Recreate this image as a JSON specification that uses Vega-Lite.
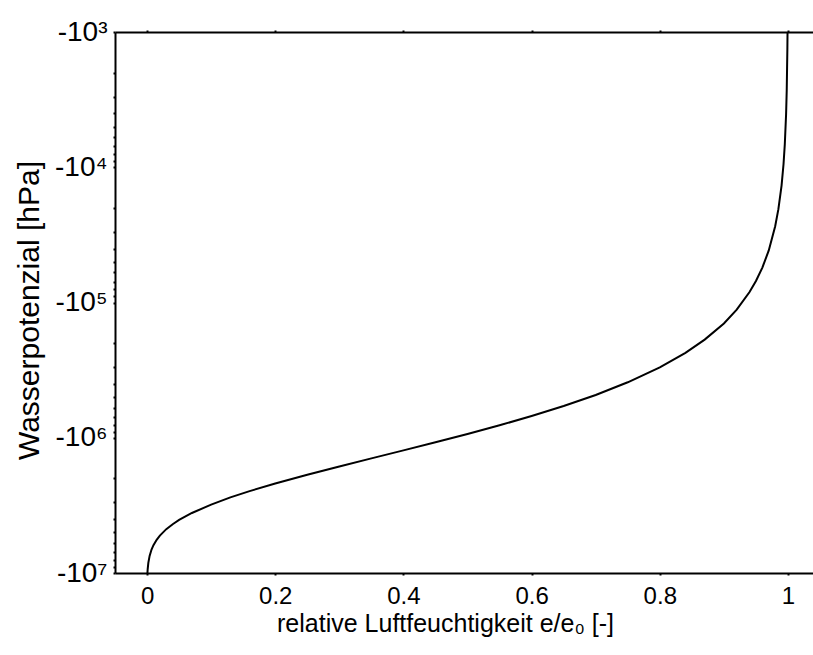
{
  "$schema": "https://vega.github.io/schema/vega-lite/v6.json",
  "width": 698,
  "height": 541,
  "autosize": {"type": "none"},
  "padding": {"left": 115, "top": 32, "right": 0, "bottom": 82},
  "background": "white",
  "config": {
    "view": {"stroke": null},
    "font": "Liberation Sans",
    "axis": {
      "domainColor": "black",
      "domainWidth": 2,
      "tickColor": "black",
      "tickWidth": 2,
      "labelColor": "black",
      "titleColor": "black",
      "labelFont": "Liberation Sans",
      "titleFont": "Liberation Sans",
      "titleFontWeight": "normal",
      "grid": false,
      "labelOverlap": false,
      "labelFlush": false
    }
  },
  "data": {
    "values": [
      {"h": 0.0006, "psi": -10000000},
      {"h": 0.001, "psi": -9350000},
      {"h": 0.002, "psi": -8410000},
      {"h": 0.004, "psi": -7470000},
      {"h": 0.007, "psi": -6710000},
      {"h": 0.01, "psi": -6230000},
      {"h": 0.015, "psi": -5680000},
      {"h": 0.02, "psi": -5290000},
      {"h": 0.03, "psi": -4740000},
      {"h": 0.04, "psi": -4360000},
      {"h": 0.05, "psi": -4050000},
      {"h": 0.07, "psi": -3600000},
      {"h": 0.1, "psi": -3120000},
      {"h": 0.13, "psi": -2760000},
      {"h": 0.16, "psi": -2480000},
      {"h": 0.2, "psi": -2180000},
      {"h": 0.25, "psi": -1880000},
      {"h": 0.3, "psi": -1630000},
      {"h": 0.35, "psi": -1420000},
      {"h": 0.4, "psi": -1240000},
      {"h": 0.45, "psi": -1080000},
      {"h": 0.5, "psi": -938000},
      {"h": 0.55, "psi": -809000},
      {"h": 0.6, "psi": -691000},
      {"h": 0.65, "psi": -583000},
      {"h": 0.7, "psi": -483000},
      {"h": 0.75, "psi": -389000},
      {"h": 0.8, "psi": -302000},
      {"h": 0.84, "psi": -236000},
      {"h": 0.87, "psi": -188000},
      {"h": 0.9, "psi": -143000},
      {"h": 0.92, "psi": -113000},
      {"h": 0.94, "psi": -83700},
      {"h": 0.95, "psi": -69400},
      {"h": 0.96, "psi": -55200},
      {"h": 0.97, "psi": -41200},
      {"h": 0.98, "psi": -27300},
      {"h": 0.985, "psi": -20400},
      {"h": 0.99, "psi": -13600},
      {"h": 0.993, "psi": -9500},
      {"h": 0.995, "psi": -6780},
      {"h": 0.997, "psi": -4070},
      {"h": 0.998, "psi": -2710},
      {"h": 0.999, "psi": -1350},
      {"h": 0.99926, "psi": -1000}
    ]
  },
  "layer": [
    {
      "mark": {"type": "line", "color": "black", "strokeWidth": 2, "clip": true},
      "encoding": {
        "x": {
          "field": "h",
          "type": "quantitative",
          "scale": {"domain": [-0.05, 1.039], "nice": false, "zero": false},
          "axis": {
            "orient": "bottom",
            "values": [0, 0.2, 0.4, 0.6, 0.8, 1],
            "format": "~g",
            "labelFontSize": 24,
            "tickSize": 2,
            "labelPadding": 9,
            "domainWidth": 2,
            "tickWidth": 2,
            "title": "relative Luftfeuchtigkeit e/e₀ [-]",
            "titleFontSize": 25,
            "titleBaseline": "alphabetic",
            "titleX": 330,
            "titleY": 58,
            "titleAlign": "center",
            "encode": {"ticks": {"update": {"y2": {"value": -6}}}}
          }
        },
        "y": {
          "field": "psi",
          "type": "quantitative",
          "scale": {"type": "log", "domain": [-10000000, -1000], "nice": false, "zero": false},
          "axis": {
            "orient": "left",
            "values": [-1000, -2000, -3000, -4000, -5000, -6000, -7000, -8000, -9000,
                       -10000, -20000, -30000, -40000, -50000, -60000, -70000, -80000, -90000,
                       -100000, -200000, -300000, -400000, -500000, -600000, -700000, -800000, -900000,
                       -1000000, -2000000, -3000000, -4000000, -5000000, -6000000, -7000000, -8000000, -9000000,
                       -10000000],
            "labelExpr": "datum.value == -1000 ? '-10³' : datum.value == -10000 ? '-10⁴' : datum.value == -100000 ? '-10⁵' : datum.value == -1000000 ? '-10⁶' : datum.value == -10000000 ? '-10⁷' : ''",
            "labelFontSize": 28,
            "tickSize": 2,
            "labelPadding": 6,
            "domainWidth": 2,
            "tickWidth": 2,
            "title": "Wasserpotenzial [hPa]",
            "titleFontSize": 30,
            "titleBaseline": "alphabetic",
            "titleAngle": 270,
            "titleX": -77,
            "titleY": 278,
            "titleAlign": "center",
            "encode": {"ticks": {"update": {"x2": {"signal": "indexof([-1000,-10000,-100000,-1000000,-10000000], datum.value) >= 0 ? 7 : 4"}}}}
          }
        }
      }
    },
    {
      "mark": {"type": "line", "strokeOpacity": 0, "clip": true},
      "encoding": {
        "x": {
          "field": "h",
          "type": "quantitative",
          "scale": {"domain": [-0.05, 1.039], "nice": false, "zero": false},
          "axis": {
            "orient": "top",
            "values": [0, 0.2, 0.4, 0.6, 0.8, 1],
            "labels": false,
            "title": null,
            "tickSize": 2,
            "domainWidth": 2,
            "tickWidth": 2,
            "encode": {"ticks": {"update": {"y2": {"value": 6}}}}
          }
        }
      }
    }
  ],
  "resolve": {"axis": {"x": "independent"}}
}
